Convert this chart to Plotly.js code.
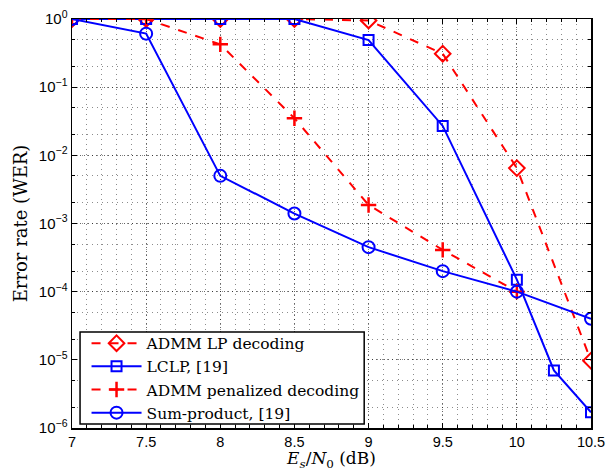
<!DOCTYPE html>
<html><head><meta charset="utf-8">
<script src="https://cdn.plot.ly/plotly-3.0.1.min.js"></script>
<style>body{margin:0;background:#fff}#c{width:608px;height:471px}</style>
</head><body><div id="c"></div>
<script>
const xLP = [7, 7.5, 8, 8.5, 9, 9.5, 10, 10.5];
const yLP = [1, 1, 1, 1, 0.95, 0.31, 0.0065, 9.7e-6];
const xLCLP = [7, 7.5, 8, 8.5, 9, 9.5, 10, 10.25, 10.5];
const yLCLP = [1, 1, 1, 1, 0.49, 0.027, 1.5e-4, 7e-6, 1.7e-6];
const xPen = [7, 7.5, 8, 8.5, 9, 9.5, 10];
const yPen = [1, 1, 0.425, 0.035, 1.87e-3, 4.1e-4, 1.0e-4];
const xSP = [7, 7.5, 8, 8.5, 9, 9.5, 10, 10.5];
const ySP = [1, 0.61, 5.0e-3, 1.4e-3, 4.5e-4, 2.0e-4, 1.0e-4, 4.0e-5];
const xTicks = [7, 7.5, 8, 8.5, 9, 9.5, 10, 10.5];
const xTickText = ['7', '7.5', '8', '8.5', '9', '9.5', '10', '10.5'];
const yTicks = [1, 0.1, 0.01, 1e-3, 1e-4, 1e-5, 1e-6];
const yTickText = ['10<sup>0</sup>', '10<sup>−1</sup>', '10<sup>−2</sup>', '10<sup>−3</sup>', '10<sup>−4</sup>', '10<sup>−5</sup>', '10<sup>−6</sup>'];
const names = ['ADMM LP decoding', 'LCLP, [19]', 'ADMM penalized decoding', 'Sum-product, [19]'];

const red = 'rgb(255,0,0)', blue = 'rgb(0,0,255)';
const traces = [
  {x: xLP, y: yLP, name: names[0], mode: 'lines+markers',
   line: {color: red, width: 2, dash: 'dash'},
   marker: {symbol: 'diamond-open', size: 12, color: red, line: {width: 2, color: red}}},
  {x: xLCLP, y: yLCLP, name: names[1], mode: 'lines+markers',
   line: {color: blue, width: 2},
   marker: {symbol: 'square-open', size: 10, color: blue, line: {width: 2, color: blue}}},
  {x: xPen, y: yPen, name: names[2], mode: 'lines+markers',
   line: {color: red, width: 2, dash: 'dash'},
   marker: {symbol: 'cross-thin-open', size: 11, color: red, line: {width: 2.5, color: red}}},
  {x: xSP, y: ySP, name: names[3], mode: 'lines+markers',
   line: {color: blue, width: 2},
   marker: {symbol: 'circle-open', size: 12, color: blue, line: {width: 2, color: blue}}}
];

const gridMaj = 'rgba(0,0,0,0.6)', gridMin = 'rgba(0,0,0,0.45)';
const layout = {
  width: 608, height: 471,
  margin: {l: 72, r: 17, t: 19, b: 43},
  paper_bgcolor: '#fff', plot_bgcolor: '#fff',
  showlegend: true,
  legend: {x: 0.028, y: 0.122, xanchor: 'left', yanchor: 'middle',
    bgcolor: 'rgba(0,0,0,0)', borderwidth: 0,
    font: {family: 'DejaVu Serif, Liberation Serif, serif', size: 15.5, color: '#000'},
    tracegroupgap: 0, itemwidth: 50},
  shapes: [{type: 'rect', xref: 'paper', yref: 'paper', layer: 'above',
    x0: 0.0155, x1: 0.563, y0: 0.0098, y1: 0.235,
    fillcolor: '#fff', line: {color: '#000', width: 1.5}}],
  xaxis: {range: [7, 10.5], tickvals: xTicks, ticktext: xTickText,
    ticks: 'inside', ticklen: 5, tickcolor: '#000', mirror: 'ticks',
    showline: true, linecolor: '#000', linewidth: 1.5,
    showgrid: true, gridcolor: gridMaj, griddash: '1px,3px', gridwidth: 1,
    minor: {dtick: 0.1, tick0: 7, ticks: 'inside', ticklen: 3, tickcolor: '#000', showgrid: true, gridcolor: gridMin, griddash: '1px,4px', gridwidth: 1},
    zeroline: false,
    tickfont: {family: 'Liberation Sans, Arial, sans-serif', size: 14.5, color: '#000'},
    title: {text: '<i>E<sub>s</sub></i>/<i>N</i><sub>0</sub> (dB)', standoff: 14,
      font: {family: 'DejaVu Serif, Liberation Serif, serif', size: 17, color: '#000'}}},
  yaxis: {type: 'log', range: [-6, 0], tickvals: yTicks, ticktext: yTickText,
    ticks: 'inside', ticklen: 5, tickcolor: '#000', mirror: 'ticks',
    showline: true, linecolor: '#000', linewidth: 1.5,
    showgrid: true, gridcolor: gridMaj, griddash: '1px,3px', gridwidth: 1,
    minor: {ticks: 'inside', ticklen: 3, tickcolor: '#000', showgrid: true, gridcolor: gridMin, griddash: '1px,4px', gridwidth: 1},
    zeroline: false,
    tickfont: {family: 'Liberation Sans, Arial, sans-serif', size: 15, color: '#000'},
    title: {text: 'Error rate (WER)', standoff: 6,
      font: {family: 'DejaVu Serif, Liberation Serif, serif', size: 18, color: '#000'}}}
};
Plotly.newPlot('c', traces, layout, {displayModeBar: false, staticPlot: true});
</script></body></html>
